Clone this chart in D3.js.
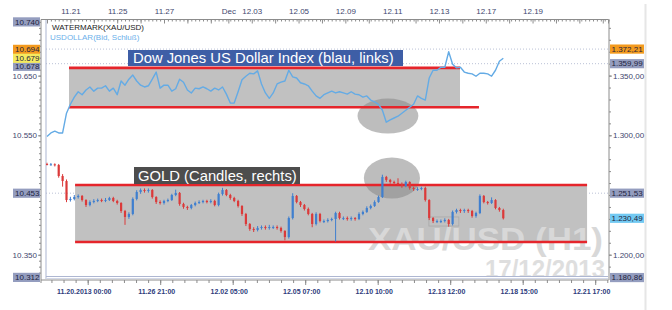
<!DOCTYPE html>
<html>
<head>
<meta charset="utf-8">
<script src="https://cdn.jsdelivr.net/npm/d3@7"></script>
<style>
  body { margin: 0; background: #fff; }
  svg { display: block; font-family: 'Liberation Sans', Arial, sans-serif; }
</style>
</head>
<body>
<script>
/* global d3 */
'use strict'

// top axis: trading days (day index since 11.20) and date labels
var tradingDays = [0, 1, 2, 3, 4, 5, 6, 7, 7.75, 8.75, 9.75, 10.75, 11.75, 12.75, 13.75,
  14.75, 15.75, 16.75, 17.75, 18.75, 19.75, 20.75, 21.75, 22.75, 23.75]
var topLabels = ['11.21', '11.25', '11.27', 'Dec', '12.03', '12.05', '12.09', '12.11', '12.13', '12.17', '12.19']
var topLabelDays = [1, 3, 5, 7.75, 8.75, 10.75, 12.75, 14.75, 16.75, 18.75, 20.75]

// bottom axis labels
var bottomLabels = ['11.20.2013 00:00', '11.26 21:00', '12.02 05:00', '12.05 07:00',
  '12.10 10:00', '12.13 12:00', '12.18 15:00', '12.21 17:00']

// left / right axis tick values (10.450 and 1.250 sit under the level markers)
var leftTicks = [10.35, 10.55, 10.65]
var rightTicks = [1200, 1300, 1350]

// USDOLLAR close, one value every 4 hours (left scale)
var usdValues = [10.548, 10.554, 10.557, 10.554, 10.554, 10.587, 10.602, 10.614, 10.623, 10.618,
  10.626, 10.631, 10.624, 10.629, 10.629, 10.633, 10.624, 10.629, 10.618, 10.641,
  10.634, 10.644, 10.651, 10.641, 10.634, 10.631, 10.633, 10.644, 10.656, 10.629,
  10.634, 10.634, 10.624, 10.628, 10.644, 10.639, 10.626, 10.621, 10.629, 10.628,
  10.631, 10.628, 10.624, 10.629, 10.626, 10.631, 10.619, 10.604, 10.604, 10.623,
  10.643, 10.649, 10.654, 10.653, 10.658, 10.636, 10.621, 10.612, 10.621, 10.636,
  10.639, 10.641, 10.659, 10.648, 10.646, 10.638, 10.636, 10.633, 10.624, 10.616,
  10.612, 10.618, 10.621, 10.624, 10.621, 10.623, 10.621, 10.619, 10.623, 10.619,
  10.618, 10.614, 10.616, 10.609, 10.606, 10.602, 10.592, 10.572, 10.576, 10.579,
  10.582, 10.587, 10.592, 10.597, 10.602, 10.616, 10.612, 10.609, 10.646, 10.659,
  10.659, 10.664, 10.664, 10.690, 10.669, 10.663, 10.664, 10.656, 10.654, 10.653,
  10.649, 10.654, 10.654, 10.653, 10.649, 10.659, 10.674, 10.679]

// GOLD 4h candles (right scale)
var goldOpen = [1276.0, 1275.6, 1275.7, 1275.1, 1265.9, 1261.7, 1245.8, 1246.7, 1248.3, 1249.2,
  1245.8, 1241.6, 1244.1, 1245.0, 1245.8, 1245.0, 1245.8, 1247.5, 1245.0, 1243.3,
  1236.6, 1231.6, 1234.1, 1246.7, 1252.5, 1254.2, 1253.4, 1254.2, 1248.3, 1244.1,
  1243.3, 1245.0, 1245.8, 1250.0, 1251.7, 1242.5, 1240.0, 1239.1, 1241.6, 1243.3,
  1244.1, 1245.0, 1244.1, 1245.0, 1241.6, 1250.8, 1254.2, 1250.0, 1247.5, 1245.0,
  1240.8, 1234.1, 1225.7, 1221.5, 1220.7, 1222.4, 1223.2, 1222.4, 1223.2, 1223.2,
  1222.4, 1219.9, 1214.8, 1230.7, 1249.2, 1244.1, 1241.6, 1238.3, 1234.1, 1225.7,
  1234.1, 1228.2, 1228.2, 1229.1, 1229.9, 1234.9, 1230.7, 1230.7, 1229.9, 1230.7,
  1229.9, 1234.1, 1235.8, 1239.1, 1240.8, 1244.1, 1248.3, 1265.1, 1262.6, 1260.9,
  1260.1, 1259.2, 1257.5, 1260.9, 1255.9, 1255.0, 1255.0, 1255.9, 1245.8, 1230.7,
  1228.2, 1228.2, 1228.2, 1229.1, 1225.7, 1235.8, 1237.4, 1236.6, 1237.4, 1236.6,
  1232.4, 1234.9, 1249.2, 1244.1, 1243.3, 1245.8, 1239.1, 1237.4]
var goldHigh = [1277.0, 1276.8, 1276.5, 1276.0, 1267.5, 1263.0, 1248.5, 1250.0, 1250.5, 1250.0,
  1246.5, 1245.5, 1246.5, 1247.0, 1247.0, 1247.5, 1248.5, 1248.5, 1246.0, 1244.0,
  1237.5, 1235.5, 1248.0, 1254.0, 1255.5, 1255.5, 1255.5, 1255.0, 1249.0, 1245.5,
  1246.0, 1247.0, 1251.0, 1254.5, 1252.5, 1243.5, 1241.0, 1242.5, 1244.5, 1245.5,
  1246.0, 1246.0, 1246.5, 1246.0, 1252.0, 1256.0, 1255.0, 1251.0, 1248.5, 1246.0,
  1241.5, 1235.0, 1226.5, 1223.0, 1224.0, 1224.5, 1224.5, 1225.0, 1224.5, 1224.5,
  1223.5, 1220.5, 1232.0, 1251.5, 1250.0, 1245.0, 1242.5, 1239.5, 1235.0, 1235.5,
  1235.0, 1229.5, 1230.5, 1231.0, 1236.0, 1236.0, 1232.0, 1232.0, 1232.0, 1231.5,
  1235.5, 1237.0, 1240.5, 1242.0, 1245.5, 1249.5, 1267.0, 1266.0, 1263.5, 1262.0,
  1264.0, 1260.5, 1262.0, 1261.5, 1257.0, 1256.5, 1257.0, 1257.0, 1246.5, 1231.5,
  1229.5, 1229.5, 1230.5, 1230.0, 1237.0, 1238.5, 1238.5, 1238.5, 1238.5, 1237.5,
  1236.0, 1250.5, 1250.0, 1245.0, 1248.0, 1246.5, 1240.0, 1238.5]
var goldLow = [1274.8, 1274.6, 1273.9, 1264.5, 1257.0, 1244.0, 1244.5, 1245.5, 1247.0, 1244.5,
  1240.0, 1240.5, 1243.0, 1244.0, 1244.0, 1244.0, 1245.0, 1244.0, 1242.0, 1235.0,
  1225.0, 1230.0, 1233.0, 1245.5, 1251.0, 1252.0, 1252.0, 1247.0, 1242.5, 1242.0,
  1242.0, 1244.0, 1245.0, 1249.0, 1241.0, 1238.5, 1237.5, 1238.0, 1240.5, 1242.5,
  1243.0, 1243.0, 1243.0, 1240.5, 1240.5, 1249.5, 1249.0, 1246.0, 1244.0, 1239.5,
  1232.5, 1224.0, 1220.0, 1219.0, 1219.5, 1221.0, 1221.0, 1221.0, 1221.5, 1221.0,
  1218.5, 1212.0, 1213.5, 1229.5, 1243.0, 1240.0, 1237.0, 1233.0, 1223.0, 1224.5,
  1227.0, 1226.5, 1227.0, 1228.0, 1211.0, 1229.5, 1229.0, 1228.5, 1228.5, 1228.5,
  1229.0, 1233.0, 1235.0, 1238.0, 1240.0, 1243.5, 1247.5, 1261.0, 1259.5, 1258.5,
  1258.0, 1256.0, 1256.5, 1254.5, 1253.5, 1253.5, 1254.0, 1244.5, 1229.0, 1226.5,
  1226.5, 1226.5, 1227.0, 1223.5, 1224.5, 1234.5, 1235.0, 1235.0, 1235.0, 1231.0,
  1231.0, 1234.0, 1243.0, 1242.0, 1242.5, 1238.0, 1236.0, 1229.5]
var goldClose = [1275.6, 1275.7, 1275.1, 1265.9, 1261.7, 1245.8, 1246.7, 1248.3, 1249.2, 1245.8,
  1241.6, 1244.1, 1245.0, 1245.8, 1245.0, 1245.8, 1247.5, 1245.0, 1243.3, 1236.6,
  1231.6, 1234.1, 1246.7, 1252.5, 1254.2, 1253.4, 1254.2, 1248.3, 1244.1, 1243.3,
  1245.0, 1245.8, 1250.0, 1251.7, 1242.5, 1240.0, 1239.1, 1241.6, 1243.3, 1244.1,
  1245.0, 1244.1, 1245.0, 1241.6, 1250.8, 1254.2, 1250.0, 1247.5, 1245.0, 1240.8,
  1234.1, 1225.7, 1221.5, 1220.7, 1222.4, 1223.2, 1222.4, 1223.2, 1223.2, 1222.4,
  1219.9, 1214.8, 1230.7, 1249.2, 1244.1, 1241.6, 1238.3, 1234.1, 1225.7, 1234.1,
  1228.2, 1228.2, 1229.1, 1229.9, 1234.9, 1230.7, 1230.7, 1229.9, 1230.7, 1229.9,
  1234.1, 1235.8, 1239.1, 1240.8, 1244.1, 1248.3, 1265.1, 1262.6, 1260.9, 1260.1,
  1259.2, 1257.5, 1260.9, 1255.9, 1255.0, 1255.0, 1255.9, 1245.8, 1230.7, 1228.2,
  1228.2, 1228.2, 1229.1, 1225.7, 1235.8, 1237.4, 1236.6, 1237.4, 1236.6, 1232.4,
  1234.9, 1249.2, 1244.1, 1243.3, 1245.8, 1239.1, 1237.4, 1230.5]

// drawn annotations, in data units [dayStart, dayEnd, low, high]
var usdBand = [0.94, 17.65, 10.597, 10.663]
var usdBandLowEnd = 18.46
var goldBand = [1.2, 23.08, 1210.6, 1258.4]
// ellipses [day, value, dayRadius, valueRadius]
var usdCircle = [14.57, 10.5823, 1.3, 0.0293]
var goldCircle = [14.74, 1264.2, 1.2, 17.2]
var goldSmallBox = [16.32, 17.6, 1224.0, 1231.6]

// horizontal level lines (right scale)
var levels = [1372.21, 1359.99, 1251.53]

// value markers on the axes
var leftMarkValues = [10.740, 10.694, 10.678, 10.679, 10.453, 10.312]
var leftMarkKinds = ['axis', 'high', 'axis', 'last', 'axis', 'axis']
var rightMarkValues = [1372.21, 1359.99, 1251.53, 1230.49, 1180.86]
var rightMarkKinds = ['high', 'axis', 'axis', 'lastGold', 'axis']

;(function () {
  var dim = { w: 672, h: 310 }
  var plot = { left: 46, right: 608, top: 20, bottom: 279 }

  var markColor = { axis: '#949dbf', high: '#f39a1e', last: '#f4ea60', lastGold: '#72c9f2' }

  var x = d3.scaleLinear().domain([0, 24]).range([47, 608.6])
  var yL = d3.scaleLinear().domain([10.312, 10.740]).range([277.4, 21.9])
  var yR = d3.scaleLinear().domain([1200, 1350]).range([254.7, 75.6])
  var xb = d3.scaleLinear().domain([0, 7]).range([87.7, 595.2])

  var de = d3.formatLocale({ decimal: ',', thousands: '.', grouping: [3], currency: ['', ''] })
  var fmtR = de.format(',.2f')
  var fmtL = d3.format('.3f')

  var svg = d3.select('body').append('svg')
    .attr('width', dim.w)
    .attr('height', dim.h)

  svg.append('rect').attr('width', dim.w).attr('height', dim.h).attr('fill', '#fff')

  svg.append('defs').append('clipPath').attr('id', 'clip')
    .append('rect')
      .attr('x', plot.left).attr('y', plot.top)
      .attr('width', plot.right - plot.left).attr('height', plot.bottom - plot.top - 3)

  // frame bits
  svg.append('line')
    .attr('x1', 645.5).attr('x2', 645.5).attr('y1', 4).attr('y2', dim.h)
    .attr('stroke', '#e6e6e6').attr('stroke-width', 2)
  svg.append('line')
    .attr('x1', plot.left).attr('x2', plot.left).attr('y1', plot.top).attr('y2', plot.bottom)
    .attr('stroke', '#c7cee0').attr('stroke-width', 1.5)
  svg.append('line')
    .attr('x1', plot.left).attr('x2', plot.right).attr('y1', 276.5).attr('y2', 276.5)
    .attr('stroke', '#aeb7d2').attr('stroke-width', 1.2)
  svg.append('line')
    .attr('x1', plot.left).attr('x2', plot.right).attr('y1', 278.5).attr('y2', 278.5)
    .attr('stroke', '#d3d8e8').attr('stroke-width', 1.2)

  // level lines
  svg.append('g').selectAll('line').data(levels).enter().append('line')
    .attr('x1', plot.left).attr('x2', plot.right)
    .attr('y1', function (d) { return yR(d) }).attr('y2', function (d) { return yR(d) })
    .attr('stroke', '#aab2cc').attr('stroke-width', 0.8)
    .attr('stroke-dasharray', '1,2')

  var ann = svg.append('g').attr('clip-path', 'url(#clip)')

  // grey bands
  ann.append('rect')
    .attr('x', x(usdBand[0])).attr('y', yL(usdBand[3]))
    .attr('width', x(usdBand[1]) - x(usdBand[0]))
    .attr('height', yL(usdBand[2]) - yL(usdBand[3]))
    .attr('fill', '#c1c1c1')
  ann.append('rect')
    .attr('x', x(goldBand[0])).attr('y', yR(goldBand[3]))
    .attr('width', x(goldBand[1]) - x(goldBand[0]))
    .attr('height', yR(goldBand[2]) - yR(goldBand[3]))
    .attr('fill', '#c1c1c1')

  // ellipses
  ann.append('ellipse')
    .attr('cx', x(usdCircle[0])).attr('cy', yL(usdCircle[1]))
    .attr('rx', x(usdCircle[2]) - x(0)).attr('ry', yL(0) - yL(usdCircle[3]))
    .attr('fill', '#868686').attr('fill-opacity', 0.55)
  ann.append('ellipse')
    .attr('cx', x(goldCircle[0])).attr('cy', yR(goldCircle[1]))
    .attr('rx', x(goldCircle[2]) - x(0)).attr('ry', yR(0) - yR(goldCircle[3]))
    .attr('fill', '#868686').attr('fill-opacity', 0.55)
  ann.append('rect')
    .attr('x', x(goldSmallBox[0])).attr('y', yR(goldSmallBox[3]))
    .attr('width', x(goldSmallBox[1]) - x(goldSmallBox[0]))
    .attr('height', yR(goldSmallBox[2]) - yR(goldSmallBox[3]))
    .attr('fill', 'none').attr('stroke', '#a9a9a9').attr('stroke-width', 0.8)

  // watermark
  ann.append('text')
    .attr('x', 368).attr('y', 250)
    .attr('textLength', 235).attr('lengthAdjust', 'spacingAndGlyphs')
    .attr('font-size', 32).attr('font-weight', 'bold')
    .attr('fill', '#d8d8d8')
    .text('XAU/USD (H1)')
  ann.append('text')
    .attr('x', 485).attr('y', 278)
    .attr('textLength', 120).attr('lengthAdjust', 'spacingAndGlyphs')
    .attr('font-size', 26).attr('font-weight', 'bold')
    .attr('fill', '#dedede')
    .text('17/12/2013')

  // red lines
  var red = [
    [usdBand[0], usdBand[1], yL(usdBand[3])],
    [usdBand[0], usdBandLowEnd, yL(usdBand[2])],
    [goldBand[0], goldBand[1], yR(goldBand[3])],
    [goldBand[0], goldBand[1], yR(goldBand[2])]
  ]
  ann.selectAll('.red').data(red).enter().append('line')
    .attr('class', 'red')
    .attr('x1', function (d) { return x(d[0]) })
    .attr('x2', function (d) { return x(d[1]) })
    .attr('y1', function (d) { return d[2] })
    .attr('y2', function (d) { return d[2] })
    .attr('stroke', '#e5252b').attr('stroke-width', 2.6)

  // USD line
  var line = d3.line()
    .x(function (d, i) { return x(i / 6) })
    .y(function (d) { return yL(d) })
  ann.append('path')
    .attr('d', line(usdValues))
    .attr('fill', 'none')
    .attr('stroke', '#64abe5')
    .attr('stroke-width', 1.4)
    .attr('stroke-linejoin', 'round')

  // gold candles
  var candles = ann.selectAll('.candle').data(goldClose).enter().append('g')
    .attr('class', 'candle')
  candles.append('line')
    .attr('x1', function (d, i) { return x(i / 6) })
    .attr('x2', function (d, i) { return x(i / 6) })
    .attr('y1', function (d, i) { return yR(goldHigh[i]) })
    .attr('y2', function (d, i) { return yR(goldLow[i]) })
    .attr('stroke', function (d, i) { return d >= goldOpen[i] ? '#3f7fcf' : '#db3a3a' })
    .attr('stroke-width', 1)
  candles.append('rect')
    .attr('x', function (d, i) { return x(i / 6) - 1.1 })
    .attr('y', function (d, i) { return yR(Math.max(d, goldOpen[i])) })
    .attr('width', 2.2)
    .attr('height', function (d, i) { return Math.max(1, Math.abs(yR(d) - yR(goldOpen[i]))) })
    .attr('fill', function (d, i) { return d >= goldOpen[i] ? '#3f7fcf' : '#db3a3a' })

  // label boxes
  svg.append('rect')
    .attr('x', 128).attr('y', 50).attr('width', 275).attr('height', 16)
    .attr('fill', '#3e5ea6')
  svg.append('text')
    .attr('x', 133).attr('y', 63)
    .attr('font-size', 14.8).attr('fill', '#fff')
    .text('Dow Jones US Dollar Index (blau, links)')
  svg.append('rect')
    .attr('x', 134).attr('y', 167).attr('width', 166).attr('height', 17)
    .attr('fill', '#4d4d4d')
  svg.append('text')
    .attr('x', 138).attr('y', 180.5)
    .attr('font-size', 14.8).attr('fill', '#fff')
    .text('GOLD (Candles, rechts)')

  // top-left legend text
  svg.append('text')
    .attr('x', 52).attr('y', 29.5)
    .attr('font-size', 8).attr('fill', '#222')
    .text('WATERMARK(XAU/USD)')
  svg.append('text')
    .attr('x', 50).attr('y', 39.5)
    .attr('font-size', 8).attr('fill', '#6cb0ea')
    .text('USDOLLAR(Bid, Schluß)')

  plotAxes()
  plotMarks()

  function styleAxis (g, color) {
    g.select('.domain').attr('stroke', '#8c8c8c')
    g.selectAll('.tick line').attr('stroke', color || '#8c8c8c')
    g.selectAll('text').attr('fill', '#41466e').attr('font-family', null)
  }

  function plotAxes () {
    var top = svg.append('g').attr('transform', 'translate(0,19.5)')
    top.call(d3.axisTop(x).tickValues(d3.range(0, 24.01, 1 / 6))
      .tickSize(-2).tickSizeOuter(0).tickFormat(''))
    top.append('g').call(d3.axisTop(x).tickValues(tradingDays)
      .tickSize(-4).tickSizeOuter(0).tickFormat(''))
      .call(function (g) { g.select('.domain').remove() })
      .selectAll('.tick line').attr('stroke', '#f0a028')
    top.append('g').call(d3.axisTop(x).tickValues(topLabelDays)
      .tickSize(0).tickPadding(5.5)
      .tickFormat(function (d, i) { return topLabels[i] }))
      .call(function (g) { g.select('.domain').remove() })
      .attr('font-size', 8)
    styleAxis(top)
    top.select('.domain').attr('d', 'M' + 41 + ',0H' + 608.5 + 'V4')

    var left = svg.append('g').attr('transform', 'translate(41,0)')
    left.call(d3.axisLeft(yL).tickValues(d3.range(10.32, 10.745, 0.01))
      .tickSize(2).tickSizeOuter(0).tickFormat(''))
    left.append('g').call(d3.axisLeft(yL).tickValues(leftTicks)
      .tickSize(3).tickPadding(1).tickFormat(fmtL))
      .call(function (g) { g.select('.domain').remove() })
      .attr('font-size', 8)
    styleAxis(left)
    left.select('.domain').attr('d', 'M0,19.5V283')

    var right = svg.append('g').attr('transform', 'translate(609,0)')
    right.call(d3.axisRight(yR).tickValues(d3.range(1190, 1391, 10))
      .tickSize(2).tickSizeOuter(0).tickFormat(''))
    right.append('g').call(d3.axisRight(yR).tickValues(rightTicks)
      .tickSize(3).tickPadding(1).tickFormat(fmtR))
      .call(function (g) { g.select('.domain').remove() })
      .attr('font-size', 8)
    styleAxis(right)
    right.select('.domain').attr('d', 'M0,19.5V280')

    var bottom = svg.append('g').attr('transform', 'translate(0,280)')
    bottom.call(d3.axisBottom(xb).tickValues(d3.range(-0.5, 7.2, 1 / 6))
      .tickSize(3).tickSizeOuter(0).tickFormat(''))
    bottom.append('g').call(d3.axisBottom(xb).tickValues(d3.range(0, 8))
      .tickSize(5).tickPadding(4)
      .tickFormat(function (d) { return bottomLabels[d] }))
      .call(function (g) { g.select('.domain').remove() })
      .attr('font-size', 7)
      .selectAll('text')
        .attr('font-weight', 'bold')
        .attr('dx', -4)
    styleAxis(bottom)
    bottom.selectAll('text').attr('fill', '#2d3b7c')
    bottom.select('.domain').attr('d', 'M41,0H608.5')
  }

  function placeMarks (values, kinds, scale) {
    var marks = values.map(function (v, i) {
      return { v: v, kind: kinds[i], y: scale(v) }
    })
    var sorted = marks.slice().sort(function (a, b) { return a.y - b.y })
    for (var i = 1; i < sorted.length; i++) {
      if (sorted[i].y - sorted[i - 1].y < 8) sorted[i].y = sorted[i - 1].y + 8
    }
    // highlighted ones are drawn last
    return marks.sort(function (a, b) {
      return (a.kind === 'axis' ? 0 : 1) - (b.kind === 'axis' ? 0 : 1)
    })
  }

  function plotMarks () {
    var lm = placeMarks(leftMarkValues, leftMarkKinds, yL)
    var lg = svg.append('g').selectAll('g').data(lm).enter().append('g')
      .attr('transform', function (d) { return 'translate(0,' + d.y + ')' })
    lg.append('rect')
      .attr('x', 13).attr('y', -4.6).attr('width', 27).attr('height', 9.2)
      .attr('fill', function (d) { return markColor[d.kind] })
    lg.append('text')
      .attr('x', 39.5).attr('dy', '0.34em')
      .attr('text-anchor', 'end')
      .attr('font-size', 8).attr('fill', '#1e1f3e')
      .text(function (d) { return fmtL(d.v) })

    var rm = placeMarks(rightMarkValues, rightMarkKinds, yR)
    var rg = svg.append('g').selectAll('g').data(rm).enter().append('g')
      .attr('transform', function (d) { return 'translate(0,' + d.y + ')' })
    rg.append('rect')
      .attr('x', 610).attr('y', -4.6).attr('width', 34).attr('height', 9.2)
      .attr('fill', function (d) { return markColor[d.kind] })
    rg.append('text')
      .attr('x', 611.5).attr('dy', '0.34em')
      .attr('font-size', 8).attr('fill', '#1e1f3e')
      .text(function (d) { return fmtR(d.v) })
  }
}())
</script>
</body>
</html>
